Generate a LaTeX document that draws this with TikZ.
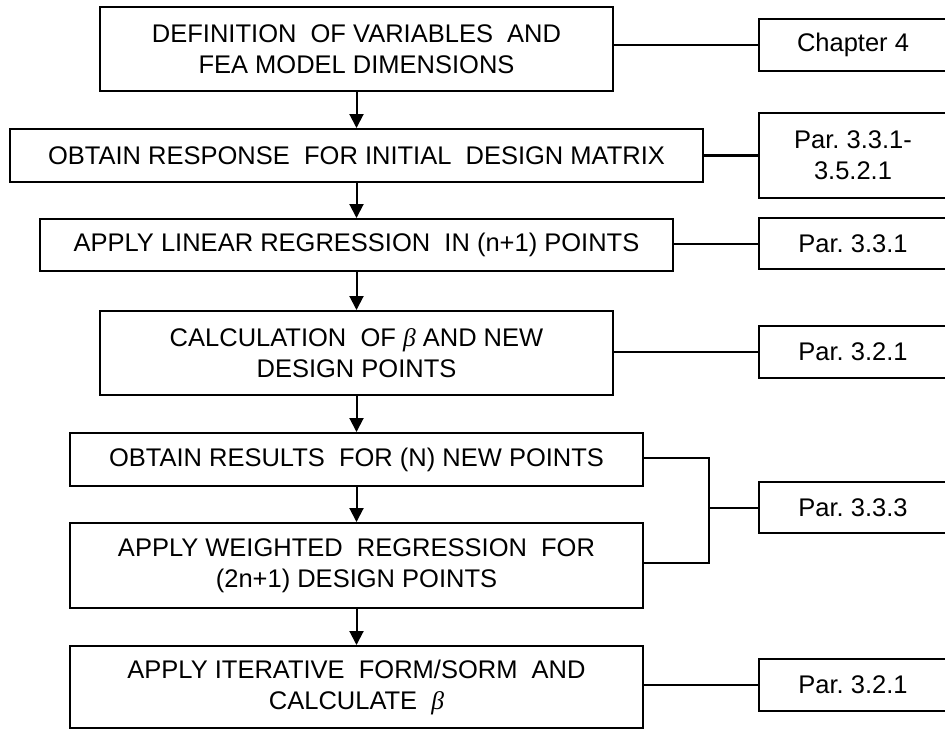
\documentclass[tikz,border=0pt]{standalone}
\usepackage{fontspec}
\setmainfont{Liberation Sans}
\newfontfamily\betafont{Liberation Serif}
\usetikzlibrary{arrows.meta}
\newcommand{\bet}{{\betafont\itshape β}}
\frenchspacing
\begin{document}
\begin{tikzpicture}[x=1pt,y=-1pt,
  stepbox/.style={draw,line width=2pt,rectangle,inner sep=0pt,align=center,
    font=\fontsize{25.5}{31}\selectfont},
  refbox/.style={draw,line width=2pt,rectangle,inner sep=0pt,align=center,
    minimum width=188pt,font=\fontsize{25.5}{31}\selectfont},
  flow/.style={line width=2pt,-{Triangle[length=14pt,width=14pt]}},
  link/.style={line width=2pt}]
\useasboundingbox (0,0) rectangle (945,729);
\clip (0,0) rectangle (945,729);

% main flow boxes
\node[stepbox,minimum width=513pt,minimum height=84pt] (b1) at (356.5,49)
  {DEFINITION\ \ OF VARIABLES\ \ AND\\FEA MODEL DIMENSIONS};
\node[stepbox,minimum width=693pt,minimum height=53pt] (b2) at (356.5,155.5)
  {OBTAIN RESPONSE\ \ FOR INITIAL\ \ DESIGN MATRIX};
\node[stepbox,minimum width=633pt,minimum height=52pt] (b3) at (356.5,245)
  {APPLY LINEAR REGRESSION\ \ IN (n+1) POINTS};
\node[stepbox,minimum width=513pt,minimum height=84pt] (b4) at (356.5,353)
  {CALCULATION\ \ OF \bet\ AND NEW\\DESIGN POINTS};
\node[stepbox,minimum width=573pt,minimum height=53pt] (b5) at (356.5,459.5)
  {OBTAIN RESULTS\ \ FOR (N) NEW POINTS};
\node[stepbox,minimum width=573pt,minimum height=85pt] (b6) at (356.5,565.5)
  {APPLY WEIGHTED\ \ REGRESSION\ \ FOR\\(2n+1) DESIGN POINTS};
\node[stepbox,minimum width=573pt,minimum height=82pt] (b7) at (356.5,687)
  {APPLY ITERATIVE\ \ FORM/SORM\ \ AND\\CALCULATE\ \ \bet};

% reference boxes
\node[refbox,minimum height=52pt] (r1) at (853,45) {Chapter 4};
\node[refbox,minimum height=85pt] (r2) at (853,155.5) {Par. 3.3.1-\\3.5.2.1};
\node[refbox,minimum height=51pt] (r3) at (853,243.5) {Par. 3.3.1};
\node[refbox,minimum height=52pt] (r4) at (853,352) {Par. 3.2.1};
\node[refbox,minimum height=51pt] (r5) at (853,507.5) {Par. 3.3.3};
\node[refbox,minimum height=52pt] (r6) at (853,685) {Par. 3.2.1};

% flow arrows
\draw[flow] (b1) -- (b2);
\draw[flow] (b2) -- (b3);
\draw[flow] (b3) -- (b4);
\draw[flow] (b4) -- (b5);
\draw[flow] (b5) -- (b6);
\draw[flow] (b6) -- (b7);

% links to references
\draw[link] (b1.east |- r1) -- (r1.west);
\draw[line width=3pt] (b2.east) -- (r2.west);
\draw[link] (b3.east |- r3) -- (r3.west);
\draw[link] (b4.east |- r4) -- (r4.west);
\coordinate (j) at (709,507.5);
\draw[link] (b5.east |- 0,458) -- (j |- 0,458) -- (j |- 0,563) -- (b6.east |- 0,563);
\draw[link] (j) -- (r5.west);
\draw[link] (b7.east |- r6) -- (r6.west);
\end{tikzpicture}
\end{document}
